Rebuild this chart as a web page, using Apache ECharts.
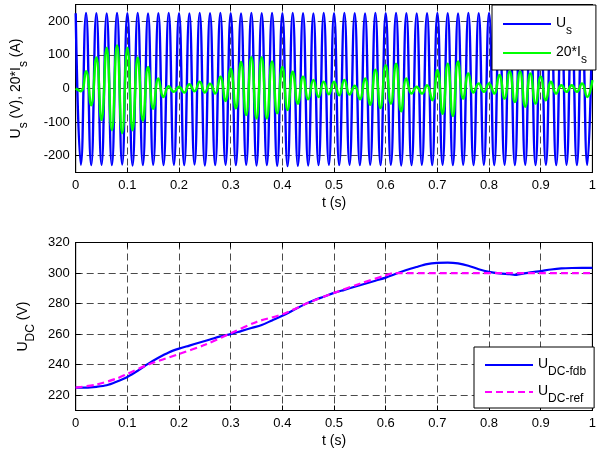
<!DOCTYPE html>
<html><head><meta charset="utf-8">
<script src="https://cdn.jsdelivr.net/npm/echarts@6/dist/echarts.min.js"></script>
<style>html,body{margin:0;padding:0;background:#fff}#c{width:599px;height:457px}</style>
</head><body><div id="c"></div>
<script>
// ---- data ----
// Source voltage Us: positive peaks (at t = k*0.02) and negative troughs (at t = k*0.02 + 0.01)
const usPeaks = [224,225,224,223,225, 224,225,223,224,225, 224,223,225,224,225, 224,223,225,224,225,
                 224,225,224,223,225, 224,225,224,223,225, 224,225,224,223,224, 225,224,223,225,224,
                 225,224,223,225,224, 225,224,223,225,224, 225];
const usTroughs = [-227,-228,-227,-228,-226, -229,-228,-227,-228,-227, -228,-226,-229,-228,-227, -228,-227,-229,-228,-230,
                   -231,-230,-229,-228,-227, -228,-227,-228,-227,-228, -227,-229,-228,-227,-228, -227,-228,-227,-228,-227,
                   -228,-227,-228,-227,-228, -227,-228,-227,-228,-227];
// 20*Is: positive peaks and negative troughs, same timing
const isPeaks = [0,51,92,121,129, 121,92,64,30,7, 5,13,20,14,35, 59,79,93,93,80,
                 64,50,35,25,20, 20,25,8,30,56, 69,74,30,5,10, 54,74,80,45,15,
                 15,40,50,50,45, 35,20,10,10,15, 25];
const isTroughs = [-8,-50,-94,-124,-133, -124,-96,-60,-25,-10, -12,-8,-12,-15,-37, -59,-79,-89,-89,-74,
                   -64,-45,-32,-25,-17, -20,-18,-32,-48,-58, -45,-68,-15,-15,-35, -75,-82,-30,-12,-10,
                   -15,-30,-40,-54,-45, -35,-15,-10,-10,-25];
const halfPeriod = 0.01;

// DC-link voltage
const tFdb = [0,0.02,0.04,0.06,0.08,0.10,0.12,0.14,0.16,0.18,0.20,0.22,0.24,0.26,0.28,0.30,0.32,0.34,0.36,0.38,
              0.40,0.42,0.44,0.46,0.48,0.50,0.52,0.54,0.56,0.58,0.60,0.62,0.64,0.66,0.68,0.70,0.72,0.74,0.76,0.78,
              0.80,0.82,0.84,0.85,0.86,0.88,0.90,0.92,0.94,0.96,0.98,1.00];
const uFdb = [225,225,225.5,226.5,229,232,236,240.5,244.5,248,250.5,252.5,254.5,256.5,258.5,260,262,264,266,269,
              272,275.5,279,282,284.5,287,289,291,293,295,297,299.5,302,304,305.8,306.6,306.8,306.3,304.8,302.5,
              300.8,299.8,299.2,298.8,299.3,300.4,301.3,302.3,303,303.3,303.4,303.4];
const tRef = [0,0.04,0.08,0.10,0.14,0.20,0.25,0.30,0.35,0.40,0.45,0.50,0.55,0.60,0.615,1.0];
const uRef = [225,227,231,234,240,247,253,260.5,268,273,280.5,287,293,298.5,300,300];

const xTicks = [0,0.1,0.2,0.3,0.4,0.5,0.6,0.7,0.8,0.9,1];
const topYTicks = [-200,-100,0,100,200];
const botYTicks = [220,240,260,280,300,320];

// ---- build series data ----
function waveData(peaks, troughs) {
  const d = [];
  for (let k = 0; k < peaks.length; k++) {
    d.push([2 * k * halfPeriod, peaks[k]]);
    if (k < troughs.length) d.push([(2 * k + 1) * halfPeriod, troughs[k]]);
  }
  return d;
}
const usData = waveData(usPeaks, usTroughs);
const isData = waveData(isPeaks, isTroughs);
const fdbData = tFdb.map((t, i) => [t, uFdb[i]]);
const refData = tRef.map((t, i) => [t, uRef[i]]);

const FONT = 'Liberation Sans, Arial, sans-serif';
const rich = {
  m: { fontSize: 14, fontFamily: FONT, color: '#000', verticalAlign: 'top', lineHeight: 16 },
  s: { fontSize: 12, fontFamily: FONT, color: '#000', verticalAlign: 'top', lineHeight: 13, padding: [9, 0, 0, 0] }
};
const gridLine = { show: true, lineStyle: { color: '#4a4a4a', type: [7, 4], width: 1 } };

function xAx(gridIndex, pos) {
  const main = pos === 'bottom';
  return {
    type: 'value', gridIndex, position: pos, min: 0, max: 1,
    axisTick: { show: true, inside: true, length: 5, lineStyle: { color: '#000' }, customValues: xTicks },
    axisLabel: { show: main, customValues: xTicks, fontSize: 13, fontFamily: FONT, color: '#000', margin: 6 },
    axisLine: { show: true, onZero: false, lineStyle: { color: '#000', width: 1 } },
    splitLine: main ? gridLine : { show: false },
    name: main ? 't (s)' : '', nameLocation: 'middle', nameGap: 24,
    nameTextStyle: { fontSize: 14, fontFamily: FONT, color: '#000' }
  };
}
function yAx(gridIndex, pos, min, max, ticks, name, gap) {
  const main = pos === 'left';
  return {
    type: 'value', gridIndex, position: pos, min, max,
    axisTick: { show: true, inside: true, length: 5, lineStyle: { color: '#000' }, customValues: ticks },
    axisLabel: { show: main, customValues: ticks, fontSize: 13, fontFamily: FONT, color: '#000', margin: 6 },
    axisLine: { show: true, onZero: false, lineStyle: { color: '#000', width: 1 } },
    splitLine: main ? gridLine : { show: false },
    name: main ? name : '', nameLocation: 'middle', nameGap: gap,
    nameTextStyle: { rich, fontFamily: FONT }
  };
}

const legendCommon = {
  orient: 'vertical', itemWidth: 48, itemHeight: 14,
  backgroundColor: '#fff', borderColor: '#000', borderWidth: 1, borderRadius: 0,
  itemStyle: { opacity: 0 },
  textStyle: { rich }
};

const option = {
  animation: false,
  backgroundColor: '#fff',
  grid: [
    { left: 75.7, top: 4.5, width: 519.3, height: 168, show: true, borderColor: '#000', borderWidth: 1, backgroundColor: 'transparent' },
    { left: 75.7, top: 242.5, width: 519.3, height: 168, show: true, borderColor: '#000', borderWidth: 1, backgroundColor: 'transparent' }
  ],
  xAxis: [xAx(0, 'bottom'), xAx(1, 'bottom'), xAx(0, 'top'), xAx(1, 'top')],
  yAxis: [
    yAx(0, 'left', -250, 250, topYTicks, '{m|U}{s|s}{m| (V), 20*I}{s|s}{m| (A)}', 51),
    yAx(1, 'left', 210, 320, botYTicks, '{m|U}{s|DC}{m| (V)}', 40),
    yAx(0, 'right', -250, 250, topYTicks, '', 0),
    yAx(1, 'right', 210, 320, botYTicks, '', 0)
  ],
  legend: [
    Object.assign({}, legendCommon, {
      data: ['Us', '20*Is'], left: 492, top: 5,
      padding: [11, 9, 4, 10], itemGap: 8,
      formatter: n => n === 'Us' ? '{m|U}{s|s}' : '{m|20*I}{s|s}'
    }),
    Object.assign({}, legendCommon, {
      data: ['UDC-fdb', 'UDC-ref'], left: 474, top: 347,
      padding: [10, 8, 3, 10], itemGap: 6,
      formatter: n => n === 'UDC-fdb' ? '{m|U}{s|DC-fdb}' : '{m|U}{s|DC-ref}'
    })
  ],
  series: [
    { name: 'Us', type: 'line', xAxisIndex: 0, yAxisIndex: 0, data: usData, smooth: 0.5, symbol: 'none',
      color: '#0000ff', lineStyle: { color: '#0000ff', width: 2.4 } },
    { name: '20*Is', type: 'line', xAxisIndex: 0, yAxisIndex: 0, data: isData, smooth: 0.5, symbol: 'none',
      color: '#00ff00', lineStyle: { color: '#00ff00', width: 2.5 } },
    { name: 'UDC-fdb', type: 'line', xAxisIndex: 1, yAxisIndex: 1, data: fdbData, smooth: 0.3, symbol: 'none',
      color: '#0000ff', lineStyle: { color: '#0000ff', width: 2.2 } },
    { name: 'UDC-ref', type: 'line', xAxisIndex: 1, yAxisIndex: 1, data: refData, smooth: 0.3, symbol: 'none',
      color: '#ff00ff', lineStyle: { color: '#ff00ff', width: 2.2, type: [7, 4] } }
  ]
};
const chart = echarts.init(document.getElementById('c'), null, { renderer: 'canvas' });
chart.setOption(option);
</script>
</body></html>
